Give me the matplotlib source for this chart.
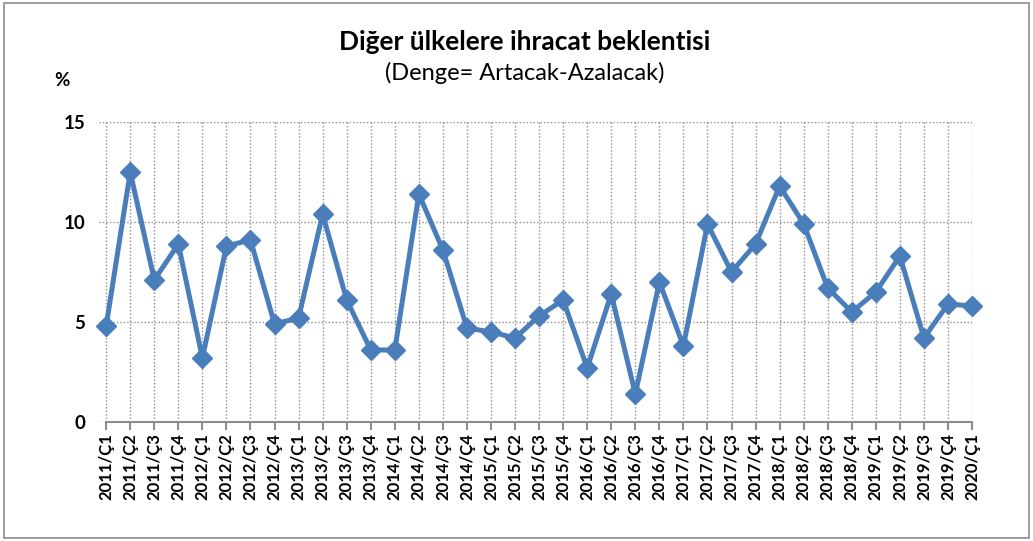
import numpy as np
import matplotlib
matplotlib.use("Agg")
import matplotlib.pyplot as plt
from matplotlib.patches import Rectangle

plt.rcParams['font.family'] = ['Lato', 'DejaVu Sans']

# ----------------------------------------------------------
# Data
# ----------------------------------------------------------
years = [2011] * 4 + [2012] * 4 + [2013] * 4 + [2014] * 4 + [2015] * 4 + \
        [2016] * 4 + [2017] * 4 + [2018] * 4 + [2019] * 4 + [2020]
quarters = [1, 2, 3, 4] * 9 + [1]
labels = [f"{y}/Ç{q}" for y, q in zip(years, quarters)]

values = [4.8, 12.5, 7.1, 8.9, 3.2, 8.8, 9.1, 4.9, 5.2, 10.4, 6.1, 3.6, 3.6,
          11.4, 8.6, 4.7, 4.5, 4.2, 5.3, 6.1, 2.7, 6.4, 1.4, 7.0, 3.8,
          9.9, 7.5, 8.9, 11.8, 9.9, 6.7, 5.5, 6.5, 8.3, 4.2, 5.9, 5.8]

yticks = [0, 5, 10, 15]

# ----------------------------------------------------------
# Figure
# ----------------------------------------------------------
fig = plt.figure(figsize=(10.33, 5.41), dpi=100)
ax = fig.add_axes([0.0958, 0.22, 0.941 - 0.0958, 0.7745 - 0.22])

x = np.arange(len(values))
ax.plot(x, values, color='#4A7EBB', linewidth=3.6, marker='D',
        markersize=10.5, markerfacecolor='#4A7EBB', markeredgecolor='#4A7EBB',
        solid_joinstyle='miter', clip_on=False, zorder=3)

ax.set_xlim(-0.3, len(values) - 1)
ax.set_ylim(0, 15)
ax.set_yticks(yticks)
ax.set_yticklabels([str(v) for v in yticks], fontsize=13.5, fontweight='bold')
ax.set_xticks(x)
ax.set_xticklabels(labels, rotation=90, fontsize=12, fontweight='bold')

# gridlines: dotted, both directions
ax.grid(True, which='major', axis='both', color='#8c8c8c',
        linestyle=(0, (1, 1.5)), linewidth=1.0, zorder=0)

for s in ['top', 'right', 'left']:
    ax.spines[s].set_visible(False)
ax.spines['bottom'].set_color('#8c8c8c')
ax.spines['bottom'].set_linewidth(1.5)
ax.spines['bottom'].set_bounds(0, len(values) - 1)

ax.tick_params(axis='y', length=0, pad=10)
ax.tick_params(axis='x', length=6, width=1.5, color='#8c8c8c', pad=2)

# titles
fig.text(0.508, 0.922, "Diğer ülkelere ihracat beklentisi", ha='center',
         va='center', fontsize=19, fontweight='bold')
fig.text(0.508, 0.866, "(Denge= Artacak-Azalacak)", ha='center',
         va='center', fontsize=17)
fig.text(0.060, 0.851, "%", ha='center', va='center', fontsize=13.5,
         fontweight='bold')

# outer frame
fig.patches.append(Rectangle((0.004, 0.006), 0.992, 0.988,
                             transform=fig.transFigure, fill=False,
                             edgecolor='#8c8c8c', linewidth=1.2))

fig.savefig("out.png", dpi=100)
